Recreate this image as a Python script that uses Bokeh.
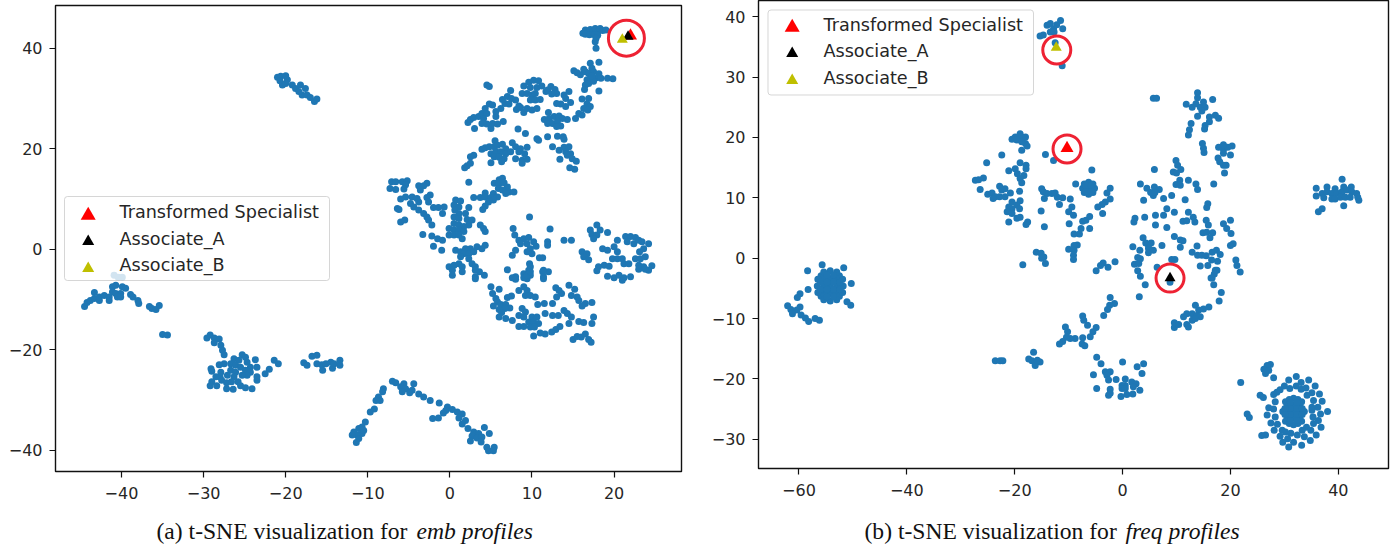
from bokeh.plotting import figure
from bokeh.layouts import row, column
from bokeh.models import Range1d, FixedTicker, Label, BoxAnnotation
from bokeh.core.properties import value
from bokeh.embed import file_html
from bokeh.resources import INLINE

# ---------- t-SNE points (a) "emb profiles" ----------
emb_top_right = [(16.2,43),(16.5,43.6),(16.8,43.1),(17.1,43.7),(17.4,43.3),(17.7,43.9),(18,43.3),(18.3,43.9),(18.6,43.5),(19,43.6),(16.5,42.8),(17,42.7),(17.6,42.7),(18,42.6),(17.8,42),(17.7,41.3),(17.8,40)]
emb_upper_fan = [(18.15,37.2),(17.1,37),(17.3,36),(16.3,35.8),(15.1,35.5),(15.5,35.1),(15.9,34.7),(16.5,35.3),(16.9,35),(17.5,35.3),(18.15,34.9),(17.7,34),(17.1,34),(16.7,33.7),(18.4,34),(19.2,34),(19.85,33.9),(16.5,32.7),(16.9,33),(16.4,31.8),(18.15,31.5),(17.5,33.4),(17.3,34.5)]
emb_upper_mid = [(4.5,32.7),(4.8,32.4),(2.2,25.2),(2.5,25.8),(2.9,26.2),(3.5,26.4),(3,24),(3.9,27),(4.3,28),(4.8,28.9),(5.2,28.7),(4.5,27),(4.1,26),(3.9,25),(4.5,24.9),(5,24),(5.2,25),(5.8,24.9),(6.5,25.4),(5.6,26.4),(5.6,27.4),(6.2,28),(6.7,29),(6.4,29.8),(7,30.4),(7.4,31.6),(7.5,30),(8,29.7),(7.2,28.9),(8.1,27.8),(8.6,28.2),(9,27.2),(8.4,28.5),(9.4,28),(10,27.7),(10.6,28),
 (9.6,33.2),(10.2,33.6),(10.8,33.5),(11.2,32.5),(9,32.5),(9.8,32.2),(10.6,32.2),(8.8,31),(9.4,31),(10,30.7),(10.4,31),(9.8,29.7),(10.4,29.7),(11,29.8),(11.7,31.4),(12.3,32.4),(12.8,31.8),(13,31),(13.5,28.9),(13,29),(14.1,30),(14.5,31.4),(13.9,30.7),(14.7,29.2),(14.1,28.4),(11.9,31.7),(12.4,30.9),
 (16.1,29.9),(16.9,30),(16.7,28.9),(17.1,28.4),(16.3,28),(16.8,27.7),(15.7,27),(16.1,26.7),(15.3,26),(14.3,25.8),(12,27.2),(11.5,25.8),(12.1,26),(12.7,26.4),(13.3,26.5),(13.7,26),(11.9,25),(12.5,25),(13.1,25.4),(13.5,24.5),(13,24.4)]
emb_mid = [(8.3,23.9),(9.2,23),(10.6,22),(10.8,21.7),(11.9,22.4),(13.1,22.5),(13.8,22.4),
 (12.5,20.4),(13.3,19.7),(13.9,20.3),(14.5,20.4),(14.1,19.4),(14.7,19),(14.3,18.7),(14.9,18),(15.4,17.5),(13.4,17.9),(14.6,16.2),(15.2,15.9),(13.9,21.9),
 (3.9,19.9),(4.3,20.2),(4.8,20.4),(5.5,21.6),(5.4,20.4),(5.8,20.7),(6.4,20.9),(6.8,20),(7.6,21.2),(8,20.4),(8.6,20),(9.4,20.3),(8.4,19.4),(9.1,19),(5,19),(5.6,19.4),(6.2,19.4),(6.8,19),(7.4,19.4),(5.4,18.4),(6,18.3),(6.6,18),(8,18),(8.8,17.7),(9.4,17.9),(5,17.2),(6.3,17.4),(8.8,17.1),
 (2.5,18.4),(2.9,18.7),(1.8,16.2),(2.1,16.6),(2.5,17.1)]
emb_center = [(2.3,13.3),(6,13.8),(6.4,14.1),(5.4,13.1),(6,13),(6.6,13.2),(7,12.4),(5.9,12.1),(6.4,11.8),(7.2,11.4),(7.8,11.4),(6.8,11.1),(5.3,11.1),(4.3,11.2),(2.9,10.3),(3.7,10.3),(4.3,10.4),(5,10.3),(5.8,10.4),(4.7,9.4),(5.3,9.8),(4.3,8.6),(4,7.9),
 (-7.1,13.4),(-6.6,13.4),(-5.8,13.4),(-5.2,13.6),(-7.3,12.1),(-6.6,11.9),(-5.4,12.8),(-5.6,12),(-3.8,12.6),(-2.8,13.1),(-3.2,12.6),(-3.6,11.8),(-2.4,10.8),(-2.8,10.3),(-5.4,10.4),(-6,10),(-4.6,10.4),(-4,10.1),(-3.8,9.4),(-4.8,9.1),(-2.6,9.4),(-4.4,8.4),(-3.8,7.8),(-6.4,8.1),(-6.2,7.9),(-3.2,7.1),(-2.8,6.4),(-2.2,4.8),(-2.6,5.8),(-6,5.4),(-5.5,5.8),(-2,8.3),(-1.4,8.3),(-0.7,8.4),(-0.9,7.1),(-3.3,2.9),
 (0.7,9.8),(1.3,9.6),(0.5,8.8),(1.1,8.4),(2.3,8.3),(0.6,7.8),(1.1,7.1),(1.9,7.1),(0.5,6.4),(1.1,6.1),(2.1,5.9),(2.7,5.8),(2.3,4.8),(1.7,4.5),(0.5,5.1),(1.1,4.8),(-0.1,4.1),(0.5,3.8),(1.1,3.8),(1.7,3.5),(-0.1,2.8),(0.5,2.8),(1.1,2.8),(1.5,2.1),(3.7,4.8),(4.1,4.1),(4.3,3.5),(-2.2,2.6),(-1.5,2.1),(-0.9,1.8),(-2,0.6),(-1,-0.2),
 (0.7,-0.2),(1.3,-0.5),(1.9,0.1),(2.5,0.1),(3.3,0.5),(4.3,0.8),(3.9,0.1),(1.7,-0.9),(2.3,-0.9),(2.9,-0.5),(1.3,-1.5),(2.3,-1.9),(2.7,-2.9),(-0.1,-3.5),(0.5,-3.2),(1.1,-2.9),(0.3,-4.2),(1.5,-3.5),(3.1,-3.5),(3.6,-4.5),(4.2,-5.2),(3.1,-5.5),(0.3,-5.2),(1.5,-4.5),(3.1,-4.2),(3.1,-5.9)]
emb_center_right = [(7.7,4.1),(7.9,2.8),(8.4,1.8),(9,2.1),(9.6,2.3),(10.2,1.5),(8.6,1.1),(9.4,1.1),(9.8,0.1),(10.5,0.6),(8,-0.2),(7.6,-1.2),(9.4,-0.5),(10,-0.9),(10.9,-1.7),(11.3,-1.7),(9.7,-2.9),(11.9,1.5),(11.9,0.8),(12.2,4),(9.7,6.4),(7,-4.1),(8,-5.5),(9,-4.9),(9.6,-4.2),(9.8,-5.2),(9.4,-5.9),(11.3,-4.5),(12,-4.5),(11.4,-5.5),(13.9,1.8),(14.8,1.8),(7.6,-5.7),(8,-6),(9,-5.7),(9.4,-5.2),(9.8,-4.5),(11.4,-4.2),(11.4,-5.9),(9.8,-3.5)]
emb_far_right = [(17.9,4.8),(17.1,3.8),(18.3,3.8),(17.3,2.9),(17.9,2.8),(19.2,3.3),(17.5,2.1),(16.1,-0.5),(16.7,-0.9),(16.3,-1.5),(16.9,-2.1),(18.6,0.1),(19.2,-0.2),(20.4,1.8),(20,0.5),(20.4,-0.5),(19.8,-1.9),(20.4,-1.9),(21,-1.9),(21.4,2.5),(22,2.5),(22.6,2.3),(21.6,1.5),(22.4,1.1),(23,1.8),(23.4,1.5),(24.2,1.1),(23.6,0.1),(23.1,-0.5),(22.6,-1.9),(23.2,-1.9),(23.8,-1.5),(21.2,-2.9),(21.8,-2.9),(23,-3.2),(23.6,-3.5),(24.6,-3.3),(24.2,-4.2),(18.8,-3.2),(18.1,-3.5),(17.9,-4.3),(19.4,-3.4),(19.2,-5.4),(20,-5.7),(20.6,-5.2),(21,-6.2),(21.2,-5.7),(22,-5.5),(23,-4),(23.8,-4)]
emb_lower = [(5,-7.5),(6,-8),(5.2,-8.8),(5.6,-9.8),(5.8,-10.5),(5.3,-11.3),(6.2,-11),(6.8,-11),(7.3,-11.7),(6.7,-11.8),(6,-12),(6.3,-12.6),(6,-13.5),(6.8,-13.8),(7.6,-14.2),(7,-9.6),(7.5,-9.3),(8.4,-8.2),(9,-7.5),(9.4,-8.2),(9.2,-9.2),(9.8,-9.2),(10.4,-9.5),(10.7,-11),(11.5,-10.8),(12.5,-10.8),(8.8,-11.8),(9.2,-12.5),(8.4,-13.2),(9,-13.5),(10,-13.5),(10.6,-13.5),(9.6,-14.5),(10.2,-14.5),(10.8,-14.8),(8.4,-15.4),(9,-15.4),(9.8,-15.5),(10.3,-15.5),(10.2,-17.3),(11,-16.7),(11.6,-16.9),(12.4,-16.5),(12.9,-16),(13.4,-15.4),(11.6,-12.8),(12.5,-13.2),(13.2,-13.2),(13.9,-12.2),(14.3,-12.8),(14.8,-13.5),(14.5,-14.8),(15.7,-14.4),(16.3,-14.6),(17.3,-14.8),(17.5,-13.5),(14.5,-7.2),(15.2,-8),(14.8,-9.2),(15.5,-9.5),(15.7,-10.2),(17.3,-10.6),(16.5,-10.8),(16.1,-11.3),(12.9,-7.7),(13.3,-8.2),(13.6,-8.8),(13,-9.5),(15,-18),(15.5,-17.4),(16,-17.5),(16.5,-16.9),(16.9,-18),(17.2,-18.5)]
emb_far_left = [(-40.9,-5.2),(-40.4,-5.6),(-39.9,-5.6),(-44.5,-11.4),(-44.2,-10.6),(-43.8,-10.2),(-43.3,-8.6),(-43.3,-9.8),(-42.7,-10.2),(-42.7,-9.5),(-42.1,-9.2),(-41.5,-9.5),(-41.5,-10.2),(-41.1,-7.5),(-40.7,-7.2),(-41.1,-8.5),(-40.7,-8.8),(-40.1,-8.8),(-39.9,-7.5),(-39.5,-7.8),(-40.5,-9.5),(-40.1,-9.5),(-38.9,-9),(-38.6,-9.5),(-38,-10.2),(-37.9,-10.8),(-36.6,-11.4),(-36.3,-11.8),(-35.8,-12),(-35.4,-11.2),(-35,-17),(-34.4,-17.1)]
emb_low_left = [(-29.6,-17.7),(-29.2,-17.1),(-28.7,-17.7),(-28.7,-18.6),(-28.1,-17.9),(-27.9,-19.1),(-27.7,-20.1),(-27.5,-21),(-25.3,-21),(-24.9,-21.5),(-26.3,-21.8),(-25.7,-22.1),(-24.7,-22.5),(-23.7,-22),(-23.5,-23.5),(-24.3,-23.5),(-26.7,-22.8),(-26.1,-23.1),(-25.5,-23.5),(-24.9,-24.1),(-24.3,-24.5),(-26.7,-24.1),(-26.1,-24.5),(-27.5,-22.8),(-28.1,-23),(-29.1,-23.8),(-29,-24.3),(-27.9,-24.5),(-27.1,-25.1),(-26.3,-25.4),(-28,-25.4),(-28.5,-25.4),(-29,-26.4),(-29.2,-27.2),(-28.4,-27.2),(-27.8,-26.1),(-27.2,-26.6),(-26.6,-26.4),(-25.8,-26.4),(-27.2,-27.8),(-26.4,-27.9),(-25.5,-27.2),(-24.9,-27.6),(-24.1,-27.8),(-23.5,-26.1),(-23.5,-25.4),(-24.7,-25.1),(-25.3,-25.1),(-22.5,-24.8),(-22,-23.9),(-21.4,-22.1),(-20.9,-22.8),
 (-17.8,-22.6),(-17.4,-23.1),(-16.8,-21.3),(-16.2,-21.1),(-16.2,-22.8),(-15.6,-23),(-15.5,-24.1),(-15.1,-22.8),(-14.5,-22.5),(-14.3,-23.7),(-13.4,-22.1),(-13.4,-23.1),(-14.1,-22.8)]
emb_streak = [(-21,34.2),(-20.6,34.4),(-20,34.5),(-20.4,32.7),(-19.8,33.7),(-19.2,32.7),(-18.8,32),(-18.2,32.7),(-17.6,32),(-18,30.7),(-17.4,30.7),(-17,30.2),(-16.5,29.4),(-16.2,29.9),(-18.4,31.4),(-20.7,33.5),(-20,33)]
emb_bottom = [(-7,-26.3),(-6.6,-26.6),(-5.6,-26.8),(-4.4,-26.8),(-6,-27.4),(-5.4,-27.8),(-4.6,-28.1),(-5.8,-28.4),(-4.9,-28.6),(-3.8,-28.8),(-3.2,-29.4),(-2.4,-30.1),(-1.3,-30.6),(-0.3,-31.4),(-0.5,-32.1),(-2.1,-33.7),(-1.4,-33.6),(-0.8,-32.6),(0.3,-31.9),(0.9,-32.4),(1.5,-32.8),(1.1,-33.6),(1.9,-34.1),(1.5,-34.8),(2.2,-35.7),(4.2,-35.5),(2.9,-36.4),(3.5,-36.7),(4.8,-36.7),(2.7,-37.2),(3.3,-37.6),(3.9,-37.4),(2.5,-38.2),(3.8,-38.4),(4.5,-39.4),(5.4,-39.4),(4.7,-40.1),(5.3,-40.1),
 (-8.1,-27.8),(-8.2,-28.4),(-8.7,-29.4),(-8.5,-30.1),(-9,-30.1),(-9.2,-31.8),(-9.7,-32.4),(-10.3,-34.4),(-10.7,-35.4),(-11.1,-35.7),(-11.7,-36.4),(-10.7,-36.7),(-11.3,-37),(-11.1,-37.7),(-11.4,-38.5),(-11.9,-37),(-10.5,-36.1)]

# ---------- t-SNE points (b) "freq profiles" ----------
freq_top = [(-15.3,36.8),(-14.7,37),(-14,38.6),(-13.4,38.9),(-12.8,38),(-11.5,39.4),(-11.1,38),(-12.2,38.7),(-13.4,37.5),(-12.7,37.5),(-12.5,35.7),(-11.2,31.9)]
freq_left = [(-19,20.6),(-19.9,20.1),(-20.5,19.7),(-18.7,20.1),(-18,20.1),(-19.6,19.6),(-18.7,19.3),(-18,19),(-17.7,18.6),(-18.7,17.9),(-22.4,17.1),(-25.2,15.8),(-19,15.8),(-17.9,15.4),(-17.9,14.8),(-19.9,14.8),(-21.1,14.5),(-19.5,14),(-18.3,13.7),(-19,13.2),(-18.7,12.5),(-27.3,12.9),(-26.7,13),(-25.8,13.3),(-26.4,11.4),(-25,10.6),(-24.2,10.8),(-23.6,10.2),(-24,9.9),(-22.8,11.9),(-22.4,11.3),(-21.8,11.5),(-22.8,10.2),(-21.8,10.2),(-20.8,10.8),(-19.1,11.1),(-20.5,9.3),(-19,9.5),(-19.6,8.8),(-21.1,8.5),(-20.5,8.2),(-21.4,7.7),(-19.1,8.2),(-20.5,7.4),(-19.6,6.6),(-19,6.8),(-21.1,6),(-17.6,6),(-17.9,5.6),(-18.5,-1.1),
 (-14.3,17.2),(-15,11.5),(-14.7,11),(-14,10.7),(-14.5,9.9),(-15.1,7.8),(-14.5,5.2),(-16,1),(-15.1,0.8),(-14.6,0.2),(-14.3,-0.9),(-15,0)]
freq_inner = [(-12.8,16.2),(-13.1,10.7),(-12.5,10.8),(-12.1,10.1),(-11.1,10),(-11.7,8.9),(-9.7,9.8),(-9.4,8.5),(-10,7.7),(-9.1,7.1),(-9.9,5.7),(-7.4,6.1),(-6.8,6.3),(-6.1,6.9),(-7.7,4.9),(-6.1,4.9),(-9,4),(-8,4),(-8.4,2.2),(-9,2.1),(-10,1.5),(-9,1.3),(-9.1,0.5),(-9.1,-0.2),(-4.9,-2.1),(-4.1,-1.2),(-3.6,-0.8),(-2.7,-1.5),(-1.4,-0.6),
 (-6.3,11.6),(-7.4,11.6),(-5.2,11.6),(-6.3,12.6),(-6.3,10.6),(-7.1,12.3),(-5.5,12.3),(-7.1,10.9),(-5.5,10.9),(-6.8,11.1),(-5.8,11.1),(-6.8,12.1),(-5.8,12.1),(-5.7,14.6),(-8.7,12.3),(-2.3,11.6),(-2.9,10.8),(-2.3,9.8),(-3.2,9.3),(-3.8,8.9),(-4.6,8.5),(-3.7,7.4)]
freq_core = [(5.9,14.7),(3.3,12.3),(4.5,11.6),(5.9,11.8),(6.8,11.4),(5.7,10.4),(5.2,10.9),(6,10.9),(3.9,9.6),(7.6,9.9),(9.1,10.4),(8.2,8.2),(9.6,7.6),(7.6,7.1),(6.1,7.1),(4.1,6.8),(2.3,6.6),(2.1,6),(6.1,5.5),(8.2,5.1),(11.6,9.7),(12.2,12.9),(10.6,12.9),(9.9,12.2),(10.7,12.1),(13.6,12.3),(13.9,11.4),(16.9,12.3),(9.9,16.2),(10.2,15.4),(10.8,14.7),(9.4,14.3),(10,14.1),
 (12.2,7.6),(11.2,6.1),(11.9,6.2),(13.1,6.8),(13.4,6),(15.8,9),(15.6,8.4),(15.5,6.3),(15.9,5.5),(14.9,4.2),(15.6,4.3),(16.7,4.2),(16.2,3.4),(18.7,5.7),(20,6.3),(19.3,4.9),(20.1,4.1),(20.5,2.4),(20,2.1),
 (3.8,3.4),(4.8,2.1),(4.3,2.5),(5.3,2.5),(4.8,1.6),(1.9,1.9),(3.2,1.3),(4.8,0.9),(5.7,1.3),(7.3,2.1),(9.6,3.6),(10.7,3),(11.2,2.9),(10.7,1.8),(2.8,0.1),(3.3,-0.1),(2.2,-1),(3,-0.9),(2.8,-2.1),(3.3,-3),(4.2,-4.4),(3.1,-6.4),(6.4,-1.5),(9.1,-0.2),(9.7,-0.2),(8.8,-4),
 (13.8,2),(12.9,1),(13.9,0.5),(14.7,0.5),(15.5,0.4),(14.4,-1.3),(16.6,1),(17.4,1.3),(18.1,0.6),(17.6,-0.5),(16.5,-0.3),(15.8,-1.2),(21,-0.3),(21.2,-1.2),(21.8,-2.3),(17.5,-2),(17,-2.6),(16.6,-3.3)]
freq_upper = [(5.7,26.5),(6.3,26.5),(13.9,27.4),(13.9,26.6),(16.7,26.3),(11.8,25.5),(12.9,25),(13.6,25.6),(15,25.9),(14.4,25),(15.3,25),(14.7,24.4),(13.9,23.5),(16.1,23.4),(17.2,23.7),(17.8,23.2),(16.1,22.6),(15.3,22),(15.2,21.4),(12.7,22.3),(12.4,21.3),(12.2,20.4),(14.8,19),(15,18.2),(15.1,17.5),
 (18.7,18),(17.8,18.4),(19.5,18.4),(18.7,17.4),(18.7,18.8),(20.3,18.6),(20,17.1),(17.7,16.6),(18,16),(18.7,15.4),(19.2,15.4),(18.9,14.1)]
freq_right = [(40.7,13.1),(35.9,11.6),(35.9,10.3),(37.9,11.8),(39.4,11.5),(41,11.8),(42.4,11.8),(37,10.7),(37.9,11),(38.8,10.7),(39.7,10.8),(40.7,11),(41.6,11.3),(42.5,11),(43.4,10.7),(37.3,10),(38.8,9.8),(39.4,9.8),(40.4,10.1),(41.3,10.1),(42.2,10.1),(43.8,9.6),(43.6,10.1),(41,8.7),(37,8.2),(36.3,7.7)]
freq_blob_left = [(-54.2,-4.6),(-53,-4.6),(-55.4,-4.6),(-54.2,-3.4),(-54.2,-5.8),(-53.1,-3.5),(-55.3,-3.5),(-53.1,-5.7),(-55.3,-5.7),(-51.8,-4.6),(-56.6,-4.6),(-54.2,-2.1),(-54.2,-7.1),(-52.5,-2.9),(-55.9,-2.9),(-52.5,-6.3),(-55.9,-6.3),(-53,-2.3),(-55.4,-2.3),(-53,-6.9),(-55.4,-6.9),(-51.9,-3.5),(-56.5,-3.5),(-51.9,-5.7),(-56.5,-5.7),
 (-53.6,-4),(-54.8,-4),(-53.6,-5.2),(-54.8,-5.2),(-52.4,-4),(-56,-4),(-52.4,-5.2),(-56,-5.2),(-53.6,-2.8),(-54.8,-2.8),(-53.6,-6.4),(-54.8,-6.4),
 (-58.4,-2.1),(-55.7,-1.1),(-51.7,-1.6),(-50.3,-4.2),(-58.3,-5.2),(-59.8,-5.9),(-60.3,-6.5),(-51.1,-7.2),(-50.4,-7.8),(-62.1,-7.9),(-61.5,-8.5),(-59.8,-8.1),(-60.4,-8.6),(-61.2,-9.2),(-59.6,-9.4),(-58.8,-9.9),(-58.2,-10.5),(-57,-10),(-56.2,-10.3)]
freq_low_left = [(-23.6,-17),(-22.7,-17),(-22.2,-17),(-16.5,-15.6),(-17.4,-16.7),(-16.8,-17),(-16.2,-17.3),(-15.3,-17.2),(-16.2,-17.8),(-15.8,-16.9)]
freq_low_mid = [(-2.3,-6.5),(-1.5,-7.5),(-2.4,-7.8),(-2.8,-8.5),(-3.5,-9.5),(-7.4,-9.6),(-7.2,-10.3),(-6.5,-11.1),(-4.9,-11.5),(-5.5,-12.2),(-6,-13),(-7.4,-13.2),(-7.5,-14.2),(-7,-14.5),(-8.8,-13.3),(-9.7,-13.3),(-10.6,-11.4),(-10.2,-12.2),(-10.4,-13.1),(-11.1,-13.8),(-11.7,-14.2),
 (9.6,-11.5),(9.6,-10.7),(10.4,-11),(11.9,-11),(12.2,-11.4),(11.3,-9.7),(11.9,-9.2),(12.9,-9.2),(13.5,-7.8),(14.1,-8.6),(15,-8.4),(16,-8.1),(13.8,-9.5),(14.4,-9.7),(12.9,-10.3),(13.5,-10),(17.9,-7.1),(18.3,-5.7),(16.9,-4.4),(16.4,-3.3),(17.2,-2),
 (-4.8,-16.4),(-4,-17.5),(0,-17.2),(-5.4,-19.3),(-3.2,-18.8),(-2.3,-18.8),(-2.9,-19.4),(2.7,-18),(3.9,-17.5),(3.6,-19.1),(-1.2,-20.1),(0.5,-20),(-2.6,-20.2),(-4.8,-21.6),(-2.3,-21.7),(-2.6,-22.7),(-0.3,-22.9),(0.8,-22.6),(1.9,-22.5),(3.2,-21.9),(1.7,-20.5),(2.5,-20.8),(2,-21.3),(-0.1,-21.1),(0.5,-21.1),(-0.1,-21.6),(0.5,-21.6),(-2.3,-22.4)]
freq_ring = [(21.9,-20.6),(23.1,-25.8),(23.5,-26.4),(25.8,-29.4),(26.5,-29.3),(25.5,-22.7),(26.1,-23.1),(27.4,-17.6),(26.8,-17.8),(26.2,-18.4),(27.1,-18.6),(26.5,-19.1),(28,-19.8),
 (31.7,-25.4),(30.6,-25.4),(32.8,-25.4),(31.7,-24.3),(31.7,-26.5),(30.6,-24.4),(32.8,-24.4),(30.6,-26.4),(32.8,-26.4),(29.7,-25.4),(33.7,-25.4),(31.7,-23.2),(31.7,-27.6),(30.2,-23.8),(33.2,-23.8),(30.2,-27),(33.2,-27),(30.9,-23.4),(32.5,-23.4),(30.9,-27.4),(32.5,-27.4),
 (31.1,-24.9),(32.3,-24.9),(31.1,-25.9),(32.3,-25.9),(30.1,-24.9),(33.3,-24.9),(30.1,-25.9),(33.3,-25.9),(31.1,-23.9),(32.3,-23.9),(31.1,-26.9),(32.3,-26.9),
 (32.2,-19.6),(30.8,-20.2),(34.5,-20.2),(33.1,-20.6),(35.7,-21.2),(30,-21.2),(29.2,-21.8),(32.2,-21.2),(31,-21.6),(33.1,-21.7),(34,-21.5),(28.6,-22.2),(28,-22.6),(36.5,-22.5),(35.1,-22.3),(34.2,-22.7),(35.4,-23.6),(37,-23.7),(28.3,-23.8),(36.2,-24.7),(35.1,-24.7),(38,-25.4),(36.7,-25.8),(35.1,-25.2),(27.1,-24.8),(28,-25),(26.8,-26),(28.3,-26.3),(35.3,-26.3),(36.3,-26.9),(35.4,-27.4),(36.8,-28),(27.5,-27.3),(28.7,-27.5),(28.1,-28.5),(34.1,-28),(34.9,-28.5),(33.3,-28.5),(29.6,-28.5),(30.2,-28.8),(29.2,-29.5),(31.2,-29),(32.4,-29.3),(33.7,-29.6),(35.9,-29.3),(34.8,-30.2),(30.6,-29.9),(29.7,-30.5),(31.7,-30.5),(33.2,-31),(30.8,-31.3)]

emb_clusters = [emb_top_right, emb_upper_fan, emb_upper_mid, emb_mid, emb_center, emb_center_right, emb_far_right, emb_lower, emb_far_left, emb_low_left, emb_streak, emb_bottom]
freq_clusters = [freq_top, freq_left, freq_inner, freq_core, freq_upper, freq_right, freq_blob_left, freq_low_left, freq_low_mid, freq_ring]

# ---------- highlighted users ----------
legend_labels = ["Transformed Specialist", "Associate_A", "Associate_B"]
emb_specials = [(22.0, 42.5), (21.7, 42.3), (21.0, 41.7)]
freq_specials = [(-10.3, 18.2), (8.8, -3.3), (-12.3, 34.9)]
emb_rings = [(21.5, 42.0)]
freq_rings = [(-12.2, 34.5), (-10.3, 18.1), (8.8, -3.3)]

x_ticks_emb = [-40, -30, -20, -10, 0, 10, 20]
y_ticks_emb = [-40, -20, 0, 20, 40]
x_ticks_freq = [-60, -40, -20, 0, 20, 40]
y_ticks_freq = [-30, -20, -10, 0, 10, 20, 30, 40]

caption_a = ["(a) t-SNE visualization for ", "emb profiles"]
caption_b = ["(b) t-SNE visualization for ", "freq profiles"]

BLUE = "#1f77b4"
RING = "#ee2233"
SPECIAL_COLORS = ["#ff0000", "#000000", "#bfbf00"]
SPECIAL_SIZES_PLOT = [13, 11, 11]
SPECIAL_SIZES_KEY = [15, 12, 12]
TEXT = "#262626"
PLOT_H = 510


def panel(clusters, specials, rings, ring_size, x_range, y_range, x_ticks, y_ticks,
          fig_w, left, right, top, bottom, origin_x,
          legend_box, key_x, key_ys, text_x, text_bases):
    p = figure(width=fig_w, height=PLOT_H, output_backend="svg", toolbar_location=None,
               x_range=Range1d(*x_range), y_range=Range1d(*y_range), min_border=0,
               frame_align=False,
               min_border_left=left - origin_x, min_border_right=origin_x + fig_w - right,
               min_border_top=top, min_border_bottom=PLOT_H - bottom)
    p.grid.visible = False
    p.outline_line_color = "#111111"
    p.outline_line_width = 1.4
    p.background_fill_color = "white"
    standoffs = (9, 7)
    for ax, ticks, standoff in ((p.xaxis[0], x_ticks, standoffs[0]), (p.yaxis[0], y_ticks, standoffs[1])):
        ax.ticker = FixedTicker(ticks=ticks)
        ax.axis_line_color = None
        ax.major_tick_line_color = "#111111"
        ax.major_tick_line_width = 1.2
        ax.major_tick_in = 0
        ax.major_tick_out = 6
        ax.minor_tick_line_color = None
        ax.major_label_text_font = "DejaVu Sans"
        ax.major_label_text_font_size = "16px"
        ax.major_label_text_color = TEXT
        ax.major_label_standoff = standoff

    # conversion of page pixels to this panel's data, for annotation placement only
    def dx(px):
        return x_range[0] + (px - left) * (x_range[1] - x_range[0]) / (right - left)

    def dy(py):
        return y_range[1] - (py - top) * (y_range[1] - y_range[0]) / (bottom - top)

    pts = [pt for c in clusters for pt in c]
    p.scatter([a for a, _ in pts], [b for _, b in pts], size=7, color=BLUE, line_color=None)

    for i in (0, 1, 2):
        p.scatter([specials[i][0]], [specials[i][1]], marker="triangle", size=SPECIAL_SIZES_PLOT[i],
                  color=SPECIAL_COLORS[i], line_color=None)
    p.scatter([r[0] for r in rings], [r[1] for r in rings], marker="circle", size=ring_size,
              fill_color=None, line_color=RING, line_width=3)

    # legend
    bx0, by0, bx1, by1 = legend_box
    p.add_layout(BoxAnnotation(left=dx(bx0), right=dx(bx1), top=dy(by0), bottom=dy(by1),
                               fill_color="white", fill_alpha=0.8, line_color="#cccccc",
                               line_alpha=0.8, line_width=1, border_radius=3))
    for i, label in enumerate(legend_labels):
        p.scatter([dx(key_x)], [dy(key_ys[i])], marker="triangle", size=SPECIAL_SIZES_KEY[i],
                  color=SPECIAL_COLORS[i], line_color=None, level="overlay")
        p.add_layout(Label(x=dx(text_x), y=dy(text_bases[i]), text=label, text_font="DejaVu Sans",
                           text_font_size="17.6px", text_color=TEXT, text_baseline="alphabetic"))
    return p


p1 = panel(emb_clusters, emb_specials, emb_rings, 36, (-48.04, 28.21), (-44.25, 48.5),
           x_ticks_emb, y_ticks_emb, 700, 55, 681, 5, 471, 0,
           (64, 196, 329, 280), 87.7, [215, 241, 268], 119, [211, 238, 264])
p2 = panel(freq_clusters, freq_specials, freq_rings, 28, (-67.5, 49.3), (-34.85, 42.7),
           x_ticks_freq, y_ticks_freq, 700, 758, 1388, 0, 468, 700,
           (767.5, 9.5, 1033, 94.5), 791.7, [27, 53, 80], 823, [24, 50, 77])

# captions: a thin figure below the panels, its ranges in page pixels
cap_h = 545 - PLOT_H
cap = figure(width=1400, height=cap_h, output_backend="svg", toolbar_location=None,
             x_range=Range1d(0, 1400), y_range=Range1d(545, PLOT_H),
             x_axis_location=None, y_axis_location=None, frame_align=False,
             min_border=0, outline_line_color=None)
cap.grid.visible = False
cap_rows = [(156, 416, caption_a), (864, 1125, caption_b)]
for x_plain, x_italic, caption in cap_rows:
    cap.text([x_plain], [530], text=[caption[0]], text_font=value("Liberation Serif"),
             text_font_size="23.6px", text_color="#111111", text_baseline="alphabetic")
    cap.text([x_italic], [530], text=[caption[1]], text_font=value("Liberation Serif"),
             text_font_size="23.6px", text_font_style="italic", text_color="#111111",
             text_baseline="alphabetic")

page = column(row(p1, p2, spacing=0), cap, spacing=0)
open("out.html", "w").write(file_html(page, INLINE))
